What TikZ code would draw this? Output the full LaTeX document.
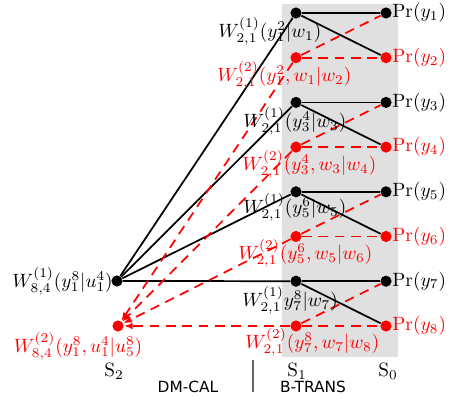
\documentclass[tikz,border=0pt]{standalone}
\usepackage{fontspec}
\newfontfamily\capfont{DejaVu Sans}
\usetikzlibrary{arrows.meta}

\begin{document}
\begin{tikzpicture}[
    x=0.52pt, y=-0.52pt,
    dot/.style={circle, fill=black, inner sep=0pt, minimum size=5.8pt},
    rdot/.style={dot, fill=red},
    wlab/.style={anchor=west, inner sep=0pt},
    rlab/.style={wlab, text=red},
    link/.style={line width=0.9pt},
    rlink/.style={red, line width=0.9pt, dash pattern=on 5pt off 3.5pt},
    rarrow/.style={rlink, -{Latex[length=4.5pt,width=3.5pt]}}
]
\useasboundingbox (0,0) rectangle (453,405);
\fill[black!12] (282,4) rectangle (398,357);

% stage 2
\node[dot] (s2a) at (117,281) {};
\node[rdot] (s2b) at (118,326) {};

% stage 1
\node[dot] (s1y1) at (296,13) {};
\node[rdot] (s1y2) at (296,57.7) {};
\node[dot] (s1y3) at (296,102.4) {};
\node[rdot] (s1y4) at (296,147.1) {};
\node[dot] (s1y5) at (296,191.8) {};
\node[rdot] (s1y6) at (296,236.5) {};
\node[dot] (s1y7) at (296,281.2) {};
\node[rdot] (s1y8) at (296,326) {};

% stage 0
\node[dot] (s0y1) at (386,13) {};
\node[rdot] (s0y2) at (386,57.7) {};
\node[dot] (s0y3) at (386,102.4) {};
\node[rdot] (s0y4) at (386,147.1) {};
\node[dot] (s0y5) at (386,191.8) {};
\node[rdot] (s0y6) at (386,236.5) {};
\node[dot] (s0y7) at (386,281.2) {};
\node[rdot] (s0y8) at (386,326) {};

\draw[link] (s2a) -- (s1y1);
\draw[link] (s2a) -- (s1y3);
\draw[link] (s2a) -- (s1y5);
\draw[link] (s2a) -- (s1y7);

\draw[link] (s1y1) -- (s0y1);
\draw[link] (s1y1) -- (s0y2);
\draw[link] (s1y3) -- (s0y3);
\draw[link] (s1y3) -- (s0y4);
\draw[link] (s1y5) -- (s0y5);
\draw[link] (s1y5) -- (s0y6);
\draw[link] (s1y7) -- (s0y7);
\draw[link] (s1y7) -- (s0y8);

\draw[rlink] (s1y2) -- (s0y1);
\draw[rlink] (s1y2) -- (s0y2);
\draw[rlink] (s1y4) -- (s0y3);
\draw[rlink] (s1y4) -- (s0y4);
\draw[rlink] (s1y6) -- (s0y5);
\draw[rlink] (s1y6) -- (s0y6);
\draw[rlink] (s1y8) -- (s0y7);
\draw[rlink] (s1y8) -- (s0y8);

\draw[rarrow] (s1y2) -- (s2b);
\draw[rarrow] (s1y4) -- (s2b);
\draw[rarrow] (s1y6) -- (s2b);
\draw[rarrow] (s1y8) -- (s2b);

% labels
\node[anchor=east, inner sep=0pt] (l2a) at (113,281) {$W^{(1)}_{8,4}(y^8_1|u^4_1)$};
\node[text=red, inner sep=0pt] (l2b) at (78,346) {$W^{(2)}_{8,4}(y^8_1,u^4_1|u^8_5)$};

\node[wlab] (l1y1) at (218,31) {$W^{(1)}_{2,1}(y^2_1|w_1)$};
\node[rlab] (l1y2) at (217,75) {$W^{(2)}_{2,1}(y^2_1,w_1|w_2)$};
\node[wlab] (l1y3) at (243,121) {$W^{(1)}_{2,1}(y^4_3|w_3)$};
\node[rlab] (l1y4) at (242,164) {$W^{(2)}_{2,1}(y^4_3,w_3|w_4)$};
\node[wlab] (l1y5) at (243,207) {$W^{(1)}_{2,1}(y^6_5|w_5)$};
\node[rlab] (l1y6) at (238,253) {$W^{(2)}_{2,1}(y^6_5,w_5|w_6)$};
\node[wlab] (l1y7) at (242,300) {$W^{(1)}_{2,1}y^8_7|w_7)$};
\node[rlab] (l1y8) at (245,342) {$W^{(2)}_{2,1}(y^8_7,w_7|w_8)$};

\node[wlab] (p1) at (392,13) {$\mathrm{Pr}(y_1)$};
\node[rlab] (p2) at (392,57.7) {$\mathrm{Pr}(y_2)$};
\node[wlab] (p3) at (392,102.4) {$\mathrm{Pr}(y_3)$};
\node[rlab] (p4) at (392,147.1) {$\mathrm{Pr}(y_4)$};
\node[wlab] (p5) at (392,191.8) {$\mathrm{Pr}(y_5)$};
\node[rlab] (p6) at (392,236.5) {$\mathrm{Pr}(y_6)$};
\node[wlab] (p7) at (392,281.2) {$\mathrm{Pr}(y_7)$};
\node[rlab] (p8) at (392,326) {$\mathrm{Pr}(y_8)$};

% stage names
\node (st2) at (114,371) {S\textsubscript{2}};
\node (st1) at (297,371) {S\textsubscript{1}};
\node (st0) at (388,371) {S\textsubscript{0}};
\node[font=\capfont\fontsize{8}{9}\selectfont] (dm) at (188,387) {DM-CAL};
\node[font=\capfont\fontsize{8}{9}\selectfont] (bt) at (313,387) {B-TRANS};
\draw[black!60, line width=0.9pt] (253,360) -- (253,392);
\end{tikzpicture}
\end{document}
